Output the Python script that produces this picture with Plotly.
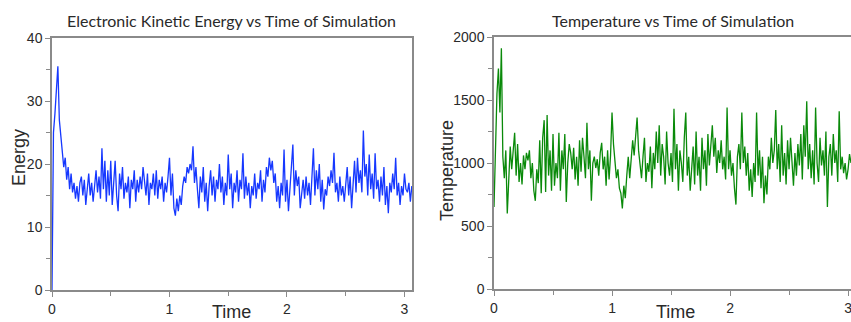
import plotly.graph_objects as go

DT = 0.0125

energy = [
    0, 25, 28, 33, 35.5, 27, 24, 21.5, 19.5, 21, 17.5, 19.5, 16, 18.5, 15.5, 17, 14.5, 16.5, 14, 17,
    18, 15, 17.5, 13.5, 16, 18.5, 15, 17, 14, 16.5, 19, 15.5, 18, 14.5, 22.5, 16, 20.5, 14, 19, 15,
    20.5, 13.5, 18, 20.5, 15, 12.5, 18.5, 16, 19.5, 14.5, 17, 15.5, 18, 13, 17.5, 16, 19, 14, 17.5, 15.5,
    18, 16, 19.5, 17, 15, 18.5, 13.5, 17, 16, 18.5, 15, 19, 14.5, 17.5, 16, 18, 14, 17, 15.5, 18,
    21, 15, 18.5, 13, 11.8, 14.5, 12.5, 15, 13.5, 16.5, 18, 17, 19.5, 18.5, 20, 19, 22.8, 17, 19.5, 16,
    13, 18, 15.5, 19.5, 14, 17, 12.5, 16.5, 19, 15, 18, 14, 17.5, 16, 20, 15.5, 18, 13.5, 17, 15,
    21.5, 16, 18.5, 13, 17, 15.5, 19, 14, 17.5, 16, 21.7, 14.5, 18, 15, 17, 13, 16.5, 15, 18.5, 14.5,
    17, 16, 19, 14, 17.5, 15.5, 19.5, 18, 21, 19, 20.5, 17, 18.5, 14, 16.5, 13, 17, 15, 22.3, 14,
    17.5, 12.5, 16, 18, 23.1, 15, 19, 16.5, 18, 13, 16, 17.5, 14.5, 18, 15, 17, 13.5, 18.5, 22.5, 15,
    19, 16, 20, 14, 17.5, 12.8, 16, 15, 18, 16.5, 19, 17, 21.8, 15.5, 17, 14, 18, 15, 16.5, 14,
    17, 19.5, 15, 18, 13, 16, 20.5, 15.5, 21, 17, 19, 15.5, 25.3, 18, 20, 15, 21.5, 16, 18.5, 14.5,
    21.7, 16, 17.5, 14, 18, 15, 19.5, 13.5, 16.5, 12.2, 17, 15.5, 18.5, 16, 21, 15, 17, 13.5, 16.5, 15,
    18.5, 16, 15.5, 17, 14, 16.5,
]

temperature = [
    650, 1230, 1550, 1750, 1400, 1910, 1050, 880, 1100, 600, 870, 1130, 950, 1080, 1240, 900, 1150, 850, 1000, 830,
    1060, 950, 1080, 1020, 1100, 880, 1000, 780, 700, 950, 840, 1180, 760, 1200, 1340, 770, 1380, 900, 1100, 780,
    1230, 820, 1000, 880, 1240, 780, 1100, 950, 1230, 690, 1000, 1150, 1080, 950, 1120, 870, 1050, 820, 1180, 930,
    1200, 1050, 880, 1320, 950, 1100, 700, 1000, 1050, 960, 1030, 900, 1080, 1160, 950, 1050, 820, 1100, 870, 1060,
    1400, 1150, 1000, 880, 950, 800, 760, 640, 820, 720, 900, 1050, 880, 1000, 1180, 1060, 1240, 1360, 1100, 1000,
    880, 1050, 1200, 850, 1000, 930, 1130, 800, 1080, 950, 1250, 1000, 1300, 900, 1150, 1050, 830, 1250, 1000, 900,
    1080, 850, 1430, 950, 1150, 780, 1100, 1000, 850, 1200, 1400, 900, 1050, 780, 1000, 1130, 830, 1250, 900, 1050,
    780, 1200, 950, 1100, 820, 1230, 980, 1130, 1300, 1050, 1200, 920, 1100, 1000, 1180, 950, 1050, 870, 1440, 950,
    1100, 900, 1000, 800, 670, 1050, 1150, 950, 1400, 1000, 1130, 900, 1080, 780, 950, 730, 1000, 850, 1400, 900,
    1100, 800, 1050, 680, 900, 750, 1050, 950, 1200, 1000, 1100, 1420, 950, 1150, 850, 1300, 900, 1080, 830, 1180,
    950, 1200, 1000, 820, 1080, 900, 1150, 980, 1230, 870, 1300, 1050, 1490, 950, 1150, 880, 1100, 830, 1440, 1000,
    850, 1200, 980, 1100, 900, 1250, 650, 1050, 1150, 900, 1230, 1000, 1100, 850, 1410, 950, 1050, 920, 1000, 870,
    950, 1070, 1000,
]

time_e = [i * DT for i in range(len(energy))]
time_t = [i * DT for i in range(len(temperature))]

x_ticks = [0, 1, 2, 3]
x_ticktext = ["0", "1", "2", "3"]

titles = ["Electronic Kinetic Energy vs Time of Simulation", "Temperature vs Time of Simulation"]
ylabels = ["Energy", "Temperature"]
xlabel = "Time"

W, H = 851, 322
AX = "#8a8a8a"
TXT = "#2a2a2a"

def px(x):
    return x / W

def py(y):
    return 1 - y / H

fig = go.Figure()
fig.add_trace(go.Scatter(x=time_e, y=energy, mode="lines",
                         line=dict(color="#1638ff", width=1.3), xaxis="x", yaxis="y"))
fig.add_trace(go.Scatter(x=time_t, y=temperature, mode="lines",
                         line=dict(color="#0a8a0a", width=1.3), xaxis="x2", yaxis="y2"))

tickfont = dict(family="Arial", size=14, color=TXT)

def xax(domain, rng, anchor):
    return dict(domain=domain, range=rng, anchor=anchor, showgrid=False, zeroline=False,
                showline=True, linecolor=AX, linewidth=1.5, mirror=True,
                ticks="outside", ticklen=5, tickcolor=AX,
                tickvals=x_ticks, ticktext=x_ticktext,
                minor=dict(dtick=0.5, tick0=0, ticks="outside", ticklen=4, tickcolor=AX),
                tickfont=tickfont, automargin=False, ticklabeloverflow="allow")

def yax(domain, rng, anchor, dt, mdt):
    return dict(domain=domain, range=rng, anchor=anchor, showgrid=False, zeroline=False,
                showline=True, linecolor=AX, linewidth=1.5, mirror=True,
                ticks="outside", ticklen=5, tickcolor=AX, dtick=dt, tick0=0,
                minor=dict(dtick=mdt, ticks="outside", ticklen=4, tickcolor=AX),
                tickfont=tickfont, automargin=False)

fig.update_layout(
    width=W, height=H,
    margin=dict(l=0, r=0, t=0, b=0, pad=0, autoexpand=False),
    paper_bgcolor="white", plot_bgcolor="white",
    showlegend=False,
    xaxis=xax([px(52), px(412)], [0, 3.064], "y"),
    yaxis=yax([py(290), py(38)], [0, 40], "x", 10, 5),
    xaxis2=xax([px(494), 1.0], [0, 3.025], "y2"),
    yaxis2=yax([py(289), py(37)], [0, 2000], "x2", 500, 250),
)

ann = []
ann.append(dict(text=titles[0], x=px(232), y=py(21), xref="paper", yref="paper", showarrow=False,
                font=dict(family="Lato", size=16, color=TXT), xanchor="center", yanchor="middle"))
ann.append(dict(text=titles[1], x=px(673), y=py(21), xref="paper", yref="paper", showarrow=False,
                font=dict(family="Lato", size=16, color=TXT), xanchor="center", yanchor="middle"))
ann.append(dict(text=xlabel, x=px(232), y=py(312), xref="paper", yref="paper", showarrow=False,
                font=dict(family="Arial", size=18, color=TXT), xanchor="center", yanchor="middle"))
ann.append(dict(text=xlabel, x=px(675), y=py(312), xref="paper", yref="paper", showarrow=False,
                font=dict(family="Arial", size=18, color=TXT), xanchor="center", yanchor="middle"))
ann.append(dict(text=ylabels[0], x=px(19), y=py(158), xref="paper", yref="paper", showarrow=False,
                textangle=-90, font=dict(family="Arial", size=18, color=TXT), xanchor="center", yanchor="middle"))
ann.append(dict(text=ylabels[1], x=px(447), y=py(170), xref="paper", yref="paper", showarrow=False,
                textangle=-90, font=dict(family="Arial", size=18, color=TXT), xanchor="center", yanchor="middle"))
fig.update_layout(annotations=ann)

fig.write_html(
    "out.html",
    config={"displayModeBar": False},
    post_script="document.documentElement.style.margin='0';document.body.style.margin='0';"
                "document.documentElement.style.overflow='hidden';document.body.style.overflow='hidden';",
)
